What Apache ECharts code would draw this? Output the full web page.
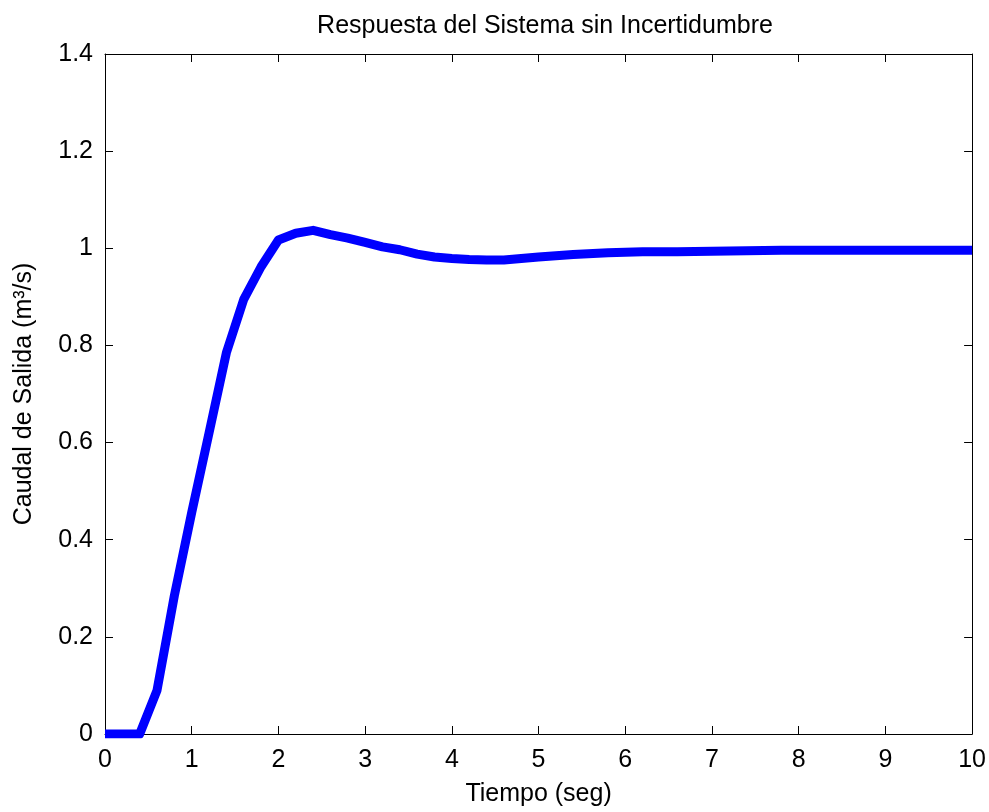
<!DOCTYPE html>
<html>
<head>
<meta charset="utf-8">
<script src="https://cdn.jsdelivr.net/npm/echarts@6/dist/echarts.min.js"></script>
<style>
html,body{margin:0;padding:0;background:#fff;}
#chart{width:989px;height:812px;}
</style>
</head>
<body>
<div id="chart"></div>
<script>
const titleText = 'Respuesta del Sistema sin Incertidumbre';
const xLabel = 'Tiempo (seg)';
const yLabel = 'Caudal de Salida (m³/s)';
const xTicks = [0,1,2,3,4,5,6,7,8,9,10];
const yTicks = [0,0.2,0.4,0.6,0.8,1,1.2,1.4];
const time = [0,0.2,0.4,0.6,0.8,1.0,1.2,1.4,1.6,1.8,2.0,2.2,2.4,2.6,2.8,3.0,3.2,3.4,3.6,3.8,4.0,4.2,4.4,4.6,4.8,5.0,5.4,5.8,6.2,6.6,7.0,7.4,7.8,8.2,8.6,9.0,9.5,10];
const flow = [0,0,0,0.09,0.285,0.456,0.62,0.785,0.895,0.962,1.017,1.031,1.037,1.028,1.021,1.012,1.003,0.997,0.988,0.982,0.979,0.977,0.976,0.976,0.979,0.982,0.987,0.991,0.993,0.993,0.994,0.995,0.996,0.996,0.996,0.996,0.996,0.996];

const FONT = "'Liberation Sans', Arial, sans-serif";
const FS = 25;
const seriesData = time.map((t,i)=>[t, flow[i]]);

const chart = echarts.init(document.getElementById('chart'));
const axisCommon = {
  axisLine:{show:true, onZero:false, lineStyle:{color:'#000', width:1}},
  axisTick:{show:true, inside:true, length:8, lineStyle:{color:'#000', width:1}},
  splitLine:{show:false}
};
chart.setOption({
  backgroundColor:'#fff',
  animation:false,
  title:{
    text:titleText, left:540, top:9, textAlign:'center',
    textStyle:{fontFamily:FONT, fontSize:FS, fontWeight:'normal', color:'#000'}
  },
  grid:{left:105, right:14, top:54, bottom:72, containLabel:false},
  xAxis:[
    Object.assign({type:'value', position:'bottom', min:xTicks[0], max:xTicks[xTicks.length-1], interval:1,
      name:xLabel, nameLocation:'middle', nameGap:48,
      nameTextStyle:{fontFamily:FONT, fontSize:FS, color:'#000'},
      axisLabel:{margin:14, fontFamily:FONT, fontSize:FS, color:'#000'}}, axisCommon),
    Object.assign({type:'value', position:'top', min:xTicks[0], max:xTicks[xTicks.length-1], interval:1,
      axisLabel:{show:false}}, axisCommon)
  ],
  yAxis:[
    Object.assign({type:'value', position:'left', min:yTicks[0], max:yTicks[yTicks.length-1], interval:0.2,
      name:yLabel, nameLocation:'middle', nameGap:68,
      nameTextStyle:{fontFamily:FONT, fontSize:FS, color:'#000'},
      axisLabel:{margin:12, fontFamily:FONT, fontSize:FS, color:'#000',
        formatter:v=>String(Math.round(v*10)/10)}}, axisCommon),
    Object.assign({type:'value', position:'right', min:yTicks[0], max:yTicks[yTicks.length-1], interval:0.2,
      axisLabel:{show:false}}, axisCommon)
  ],
  series:[{
    type:'line', data:seriesData, xAxisIndex:0, yAxisIndex:0,
    showSymbol:false, symbol:'none', clip:true,
    lineStyle:{color:'#0000ff', width:9, join:'round'}
  }]
});
</script>
</body>
</html>
